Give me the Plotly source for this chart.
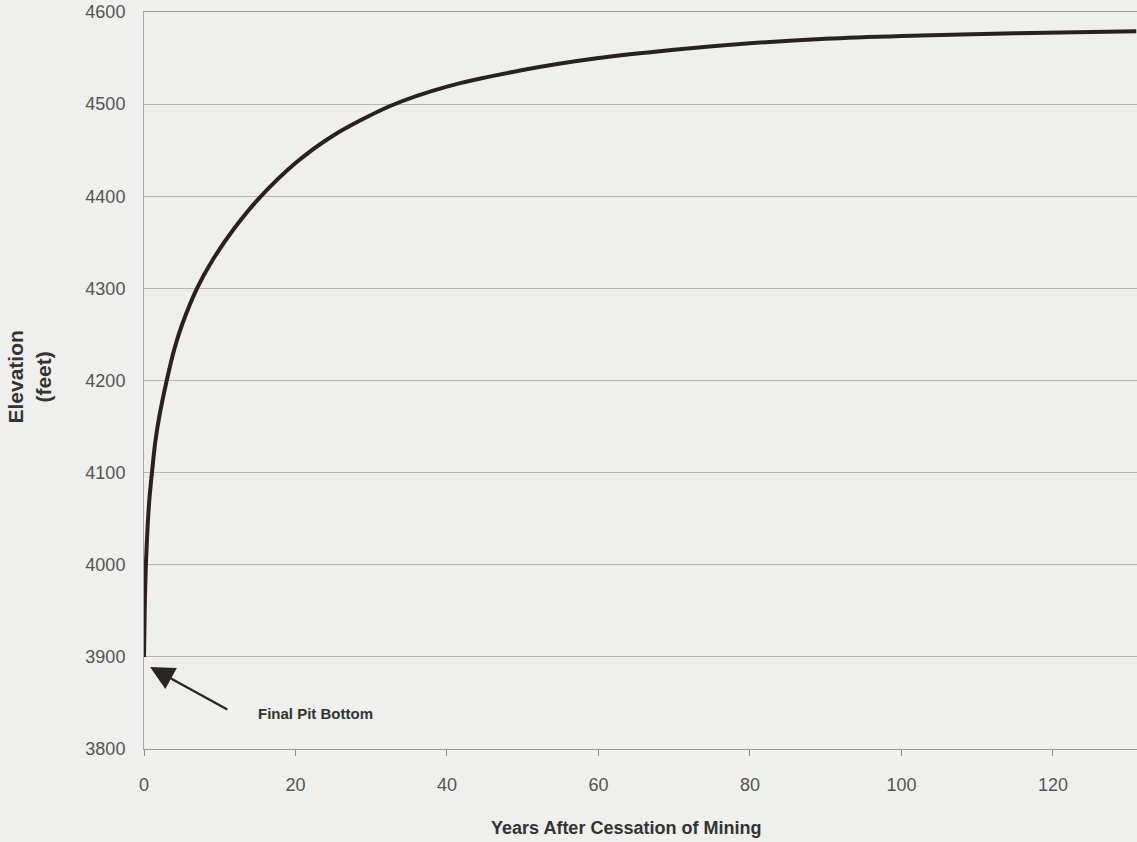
import plotly.graph_objects as go

# Pit lake water level recovery after mining stops
years = [0, 0.1, 0.25, 0.5, 0.75, 1.05, 1.5, 2, 3, 4, 5, 7, 9, 12, 15, 20,
         25, 32.5, 40, 50, 60, 70, 80, 90, 100, 115, 131]
elevation = [3900, 3955, 4000, 4045, 4075, 4100, 4134, 4160, 4200, 4234,
             4260, 4300, 4330, 4366, 4396, 4436, 4466, 4498, 4519, 4537,
             4550, 4559, 4566, 4571, 4574, 4577, 4579]

x_ticks = [0, 20, 40, 60, 80, 100, 120]
y_ticks = [3800, 3900, 4000, 4100, 4200, 4300, 4400, 4500, 4600]

bg = "#efefed"
font_family = "Liberation Sans, Arial, sans-serif"

fig = go.Figure()
fig.add_trace(go.Scatter(
    x=years, y=elevation, mode="lines",
    line=dict(color="#2b2020", width=4, shape="spline", smoothing=0.8),
    hoverinfo="skip", showlegend=False,
))

# Pointer to the starting elevation
fig.add_annotation(
    x=0.8, y=3889, xref="x", yref="y",
    ax=11.2, ay=3842, axref="x", ayref="y",
    text="", showarrow=True, arrowhead=2, arrowsize=2.0, arrowwidth=2.4,
    arrowcolor="#2b2525",
)
fig.add_annotation(
    x=22.6, y=3839, xref="x", yref="y",
    text="<b>Final Pit Bottom</b>", showarrow=False,
    font=dict(family=font_family, size=15, color="#333333"),
)

# Axis titles
fig.add_annotation(
    x=0.4854, y=-0.107, xref="paper", yref="paper",
    text="<b>Years After Cessation of Mining</b>", showarrow=False,
    xanchor="center", yanchor="middle",
    font=dict(family=font_family, size=18, color="#333333"),
)
fig.add_annotation(
    x=-0.1158, y=0.504, xref="paper", yref="paper",
    text="<b>Elevation<br>(feet)</b>", showarrow=False, textangle=-90,
    xanchor="center", yanchor="middle",
    font=dict(family=font_family, size=21, color="#333333"),
)

fig.update_layout(
    width=1137, height=842,
    margin=dict(l=144, r=0, t=12, b=93),
    paper_bgcolor=bg, plot_bgcolor=bg,
    font=dict(family=font_family, color="#555555"),
    xaxis=dict(
        range=[0, 131.1], tickvals=x_ticks, ticks="outside", ticklen=6,
        tickcolor="#888888", showgrid=False, zeroline=False,
        showline=True, linecolor="#999999", linewidth=1, mirror=True,
        tickfont=dict(size=18, color="#555555"), ticklabelstandoff=13,
    ),
    yaxis=dict(
        range=[3800, 4600], tickvals=y_ticks, showgrid=True,
        gridcolor="#b4b4b4", gridwidth=1, zeroline=False,
        showline=True, linecolor="#a8a8a8", linewidth=1, ticks="",
        tickfont=dict(size=18, color="#555555"), ticklabelstandoff=14,
    ),
)

fig.write_html("out.html")
